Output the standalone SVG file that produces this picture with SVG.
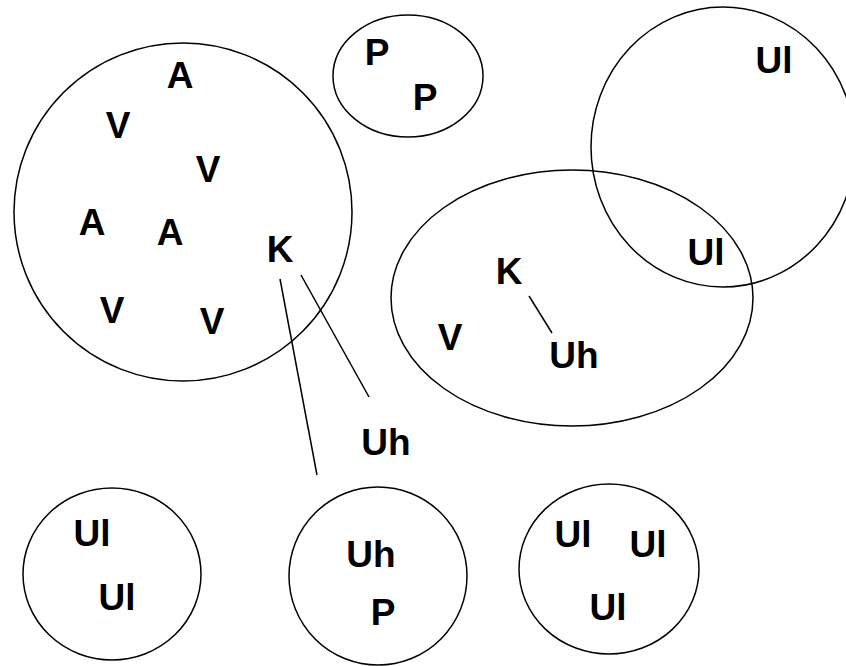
<svg xmlns="http://www.w3.org/2000/svg" width="846" height="666" viewBox="0 0 846 666">
<style>
.s{fill:none;stroke:#000;stroke-width:1.5}
.t{font-family:"Liberation Sans",Arial,sans-serif;font-weight:bold;font-size:37px;fill:#000;text-anchor:middle}
</style>
<rect width="846" height="666" fill="#fff"/>
<g id="setAV">
<circle class="s" cx="183" cy="212" r="169"/>
<text class="t" x="180" y="88">A</text>
<text class="t" x="118" y="138">V</text>
<text class="t" x="208" y="182">V</text>
<text class="t" x="92" y="235">A</text>
<text class="t" x="170" y="245">A</text>
<text class="t" x="280" y="262">K</text>
<text class="t" x="112" y="323">V</text>
<text class="t" x="212" y="334">V</text>
</g>
<g id="setP">
<ellipse class="s" cx="408" cy="76" rx="75" ry="61"/>
<text class="t" x="377" y="65">P</text>
<text class="t" x="425" y="110">P</text>
</g>
<g id="setUl">
<ellipse class="s" cx="723" cy="147" rx="132" ry="140"/>
<text class="t" x="774" y="73">Ul</text>
</g>
<g id="setKV">
<ellipse class="s" cx="572" cy="298" rx="181" ry="128"/>
<text class="t" x="706" y="265">Ul</text>
<text class="t" x="509" y="284">K</text>
<text class="t" x="450" y="350">V</text>
<text class="t" x="574" y="368">Uh</text>
</g>
<g id="Uh">
<text class="t" x="386" y="455">Uh</text>
</g>
<g id="setUl2">
<ellipse class="s" cx="112" cy="574" rx="89" ry="86"/>
<text class="t" x="92" y="546">Ul</text>
<text class="t" x="117" y="610">Ul</text>
</g>
<g id="setUhP">
<ellipse class="s" cx="378" cy="576" rx="89" ry="89"/>
<text class="t" x="371" y="567">Uh</text>
<text class="t" x="383" y="625">P</text>
</g>
<g id="setUl3">
<ellipse class="s" cx="609" cy="569" rx="90" ry="85"/>
<text class="t" x="573" y="547">Ul</text>
<text class="t" x="648" y="557">Ul</text>
<text class="t" x="608" y="620">Ul</text>
</g>
<g id="connectors">
<line class="s" x1="280" y1="279" x2="317" y2="475"/>
<line class="s" x1="301" y1="275" x2="369" y2="397"/>
<line class="s" x1="529" y1="296" x2="552" y2="333"/>
</g>
</svg>
